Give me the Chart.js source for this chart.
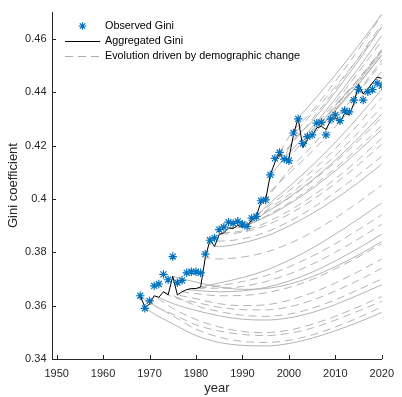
<!DOCTYPE html>
<html><head><meta charset="utf-8">
<script src="https://cdn.jsdelivr.net/npm/chart.js@4.4.1/dist/chart.umd.min.js"></script>
<style>html,body{margin:0;padding:0;background:#fff;}#wrap{width:402px;height:397px;}</style>
</head><body><div id="wrap"><canvas id="c" width="402" height="397"></canvas></div>
<script>
const years = [1968,1969,1970,1971,1972,1973,1974,1975,1976,1977,1978,1979,1980,1981,1982,1983,1984,1985,1986,1987,1988,1989,1990,1991,1992,1993,1994,1995,1996,1997,1998,1999,2000,2001,2002,2003,2004,2005,2006,2007,2008,2009,2010,2011,2012,2013,2014,2015,2016,2017,2018,2019,2020];
const observedGini = [0.3637,0.3590,0.3618,0.3674,0.3681,0.3717,0.3697,0.3784,0.3686,0.3695,0.3723,0.3727,0.3727,0.3723,0.3793,0.3845,0.3854,0.3885,0.3894,0.3913,0.3908,0.3916,0.3905,0.3897,0.3928,0.3934,0.3993,0.3996,0.4090,0.4152,0.4174,0.4149,0.4143,0.4247,0.4300,0.4207,0.4233,0.4240,0.4284,0.4287,0.4240,0.4299,0.4315,0.4293,0.4331,0.4326,0.4370,0.4410,0.4370,0.4401,0.4410,0.4434,0.4424];
const aggregatedGini = [0.3637,0.3594,0.3606,0.3637,0.3631,0.3652,0.3640,0.3710,0.3640,0.3652,0.3660,0.3664,0.3664,0.3670,0.3780,0.3845,0.3822,0.3867,0.3873,0.3891,0.3889,0.3901,0.3894,0.3897,0.3922,0.3934,0.3990,0.3996,0.4090,0.4137,0.4171,0.4143,0.4152,0.4241,0.4303,0.4192,0.4223,0.4237,0.4266,0.4272,0.4260,0.4294,0.4305,0.4284,0.4321,0.4315,0.4358,0.4430,0.4393,0.4412,0.4435,0.4456,0.4452];

// Demographic-change paths: start year (value taken from aggregated Gini) and readings at checkpoints
const checkYears = [1970,1975,1980,1985,1990,1995,2000,2005,2010,2015,2020];
const demoStartYears = [1968,1969,1970,1971,1972,1973,1974,1975,1976,1977,1978,1979,1980,1981,1982,1983,1984,1985,1986,1987,1988,1989,1990,1991,1992,1993,1994,1995,1996,1997,1998,1999,2000,2001,2002,2003,2004,2005,2006,2007,2008,2009,2010];
const demoPaths = [
 [0.3612,0.3562,0.3512,0.3482,0.3466,0.3462,0.3470,0.3490,0.3520,0.3555,0.3595],
 [0.3580,0.3532,0.3488,0.3462,0.3451,0.3449,0.3458,0.3478,0.3506,0.3538,0.3575],
 [null,0.3568,0.3528,0.3505,0.3492,0.3488,0.3496,0.3516,0.3546,0.3580,0.3616],
 [null,0.3590,0.3548,0.3520,0.3503,0.3499,0.3508,0.3530,0.3560,0.3596,0.3634],
 [null,0.3608,0.3582,0.3562,0.3549,0.3546,0.3554,0.3574,0.3604,0.3640,0.3678],
 [null,0.3638,0.3600,0.3578,0.3564,0.3560,0.3568,0.3590,0.3622,0.3660,0.3700],
 [null,0.3632,0.3612,0.3594,0.3585,0.3584,0.3595,0.3620,0.3655,0.3695,0.3740],
 [null,null,0.3688,0.3670,0.3661,0.3664,0.3680,0.3708,0.3746,0.3790,0.3840],
 [null,null,0.3626,0.3607,0.3600,0.3603,0.3620,0.3648,0.3685,0.3728,0.3775],
 [null,null,0.3645,0.3637,0.3638,0.3648,0.3668,0.3698,0.3738,0.3783,0.3832],
 [null,null,0.3657,0.3652,0.3655,0.3668,0.3692,0.3725,0.3768,0.3815,0.3868],
 [null,null,0.3666,0.3665,0.3672,0.3690,0.3718,0.3755,0.3800,0.3850,0.3905],
 [null,null,null,0.3675,0.3690,0.3712,0.3745,0.3785,0.3832,0.3885,0.3940],
 [null,null,null,0.3685,0.3705,0.3732,0.3770,0.3815,0.3868,0.3925,0.3985],
 [null,null,null,0.3775,0.3782,0.3800,0.3832,0.3875,0.3928,0.3988,0.4052],
 [null,null,null,0.3842,0.3850,0.3875,0.3915,0.3965,0.4025,0.4090,0.4160],
 [null,null,null,0.3822,0.3835,0.3860,0.3898,0.3945,0.4000,0.4062,0.4130],
 [null,null,null,null,0.3875,0.3900,0.3942,0.3995,0.4058,0.4128,0.4205],
 [null,null,null,null,0.3880,0.3910,0.3955,0.4010,0.4075,0.4148,0.4228],
 [null,null,null,null,0.3898,0.3932,0.3980,0.4038,0.4105,0.4180,0.4260],
 [null,null,null,null,0.3895,0.3935,0.3985,0.4045,0.4115,0.4192,0.4275],
 [null,null,null,null,0.3905,0.3950,0.4003,0.4066,0.4138,0.4218,0.4305],
 [null,null,null,null,null,0.3948,0.4005,0.4070,0.4145,0.4228,0.4318],
 [null,null,null,null,null,0.3955,0.4015,0.4085,0.4163,0.4250,0.4345],
 [null,null,null,null,null,0.3965,0.4030,0.4105,0.4188,0.4280,0.4380],
 [null,null,null,null,null,0.3970,0.4045,0.4125,0.4212,0.4308,0.4410],
 [null,null,null,null,null,0.4010,0.4095,0.4178,0.4270,0.4370,0.4478],
 [null,null,null,null,null,null,0.4108,0.4198,0.4298,0.4405,0.4520],
 [null,null,null,null,null,null,0.4170,0.4268,0.4375,0.4490,0.4612],
 [null,null,null,null,null,null,0.4195,0.4298,0.4410,0.4530,0.4655],
 [null,null,null,null,null,null,0.4232,0.4330,0.4440,0.4560,0.4690],
 [null,null,null,null,null,null,0.4192,0.4290,0.4400,0.4518,0.4645],
 [null,null,null,null,null,null,null,0.4258,0.4362,0.4475,0.4592],
 [null,null,null,null,null,null,null,0.4320,0.4420,0.4528,0.4642],
 [null,null,null,null,null,null,null,0.4362,0.4465,0.4575,0.4692],
 [null,null,null,null,null,null,null,0.4240,0.4335,0.4440,0.4552],
 [null,null,null,null,null,null,null,0.4250,0.4345,0.4448,0.4558],
 [null,null,null,null,null,null,null,null,0.4330,0.4430,0.4538],
 [null,null,null,null,null,null,null,null,0.4350,0.4448,0.4555],
 [null,null,null,null,null,null,null,null,0.4350,0.4450,0.4560],
 [null,null,null,null,null,null,null,null,0.4330,0.4430,0.4540],
 [null,null,null,null,null,null,null,null,0.4340,0.4440,0.4548],
 [null,null,null,null,null,null,null,null,null,0.4400,0.4510]
];
const xTicks = [1950,1960,1970,1980,1990,2000,2010,2020];
const yTicks = [0.34,0.36,0.38,0.40,0.42,0.44,0.46];
const yTickLabels = ['0.34','0.36','0.38','0.4','0.42','0.44','0.46'];
const legendLabels = ['Observed Gini','Aggregated Gini','Evolution driven by demographic change'];

const FONT = "'Liberation Sans', Arial, Helvetica, sans-serif";
const AXIS = '#262626';
const BLUE = '#0072BD';
const GRAY = 'rgb(172,172,172)';

const datasets = [];
datasets.push({
  label: legendLabels[0],
  data: years.map((y,i)=>({x:y,y:observedGini[i]})),
  showLine: false, pointStyle: 'star', pointRadius: 4.2, pointBorderWidth: 1.2,
  pointBorderColor: BLUE, pointBackgroundColor: BLUE, borderColor: BLUE, order: 0
});
datasets.push({
  label: legendLabels[1],
  data: years.map((y,i)=>({x:y,y:aggregatedGini[i]})),
  borderColor: '#000', borderWidth: 1, pointRadius: 0, tension: 0, order: 1
});
demoStartYears.forEach((s,k)=>{
  const pts = [{x:s, y:aggregatedGini[years.indexOf(s)]}];
  checkYears.forEach((cy,j)=>{ const v = demoPaths[k][j]; if (v !== null && cy > s) pts.push({x:cy,y:v}); });
  datasets.push({
    label: legendLabels[2], data: pts,
    borderColor: GRAY, borderWidth: 0.9, pointRadius: 0,
    borderDash: (k % 3 === 1) ? [] : [8,5], borderDashOffset: (k*3)%13,
    cubicInterpolationMode: 'monotone', order: 2
  });
});

const inwardTicks = {
  id: 'inwardTicks',
  afterDraw(chart) {
    const ctx = chart.ctx, xs = chart.scales.x, ys = chart.scales.y, a = chart.chartArea;
    ctx.save();
    ctx.strokeStyle = AXIS; ctx.lineWidth = 1;
    ctx.beginPath();
    xTicks.forEach(t => { const px = Math.round(xs.getPixelForValue(t)) + 0.5; ctx.moveTo(px, a.bottom); ctx.lineTo(px, a.bottom - 4); });
    yTicks.forEach(t => { const py = Math.round(ys.getPixelForValue(t)) + 0.5; ctx.moveTo(a.left, py); ctx.lineTo(a.left + 4, py); });
    ctx.stroke();
    // legend
    ctx.font = '10.8px ' + FONT; ctx.fillStyle = '#000'; ctx.textBaseline = 'middle'; ctx.textAlign = 'left';
    const lx0 = 65, lx1 = 100, tx = 105;
    const rows = [26, 41.5, 56.5];
    ctx.strokeStyle = BLUE; ctx.lineWidth = 1.2;
    const cx = 82.5, cy = rows[0], r = 3.8;
    ctx.beginPath();
    for (let i = 0; i < 4; i++) { const ang = i * Math.PI / 4; ctx.moveTo(cx - r*Math.cos(ang), cy - r*Math.sin(ang)); ctx.lineTo(cx + r*Math.cos(ang), cy + r*Math.sin(ang)); }
    ctx.stroke();
    ctx.strokeStyle = '#000'; ctx.lineWidth = 1;
    ctx.beginPath(); ctx.moveTo(lx0, rows[1]); ctx.lineTo(lx1, rows[1]); ctx.stroke();
    ctx.strokeStyle = GRAY; ctx.setLineDash([8,5]);
    ctx.beginPath(); ctx.moveTo(lx0, rows[2]); ctx.lineTo(lx1 + 1, rows[2]); ctx.stroke();
    ctx.setLineDash([]);
    legendLabels.forEach((t,i) => ctx.fillText(t, tx, rows[i]));
    ctx.restore();
  }
};

new Chart(document.getElementById('c'), {
  type: 'line',
  data: { datasets },
  options: {
    responsive: false, animation: false, devicePixelRatio: 1,
    layout: { padding: { top: 7, right: 14, left: 0, bottom: 0 } },
    plugins: { legend: { display: false }, tooltip: { enabled: false } },
    scales: {
      x: {
        type: 'linear', min: 1949, max: 2020,
        afterFit: s => { s.height = 38; },
        afterBuildTicks: s => { s.ticks = xTicks.map(v => ({value: v})); },
        grid: { display: false, drawTicks: false },
        border: { display: true, color: AXIS, width: 1 },
        ticks: { padding: 8, color: AXIS, font: { family: FONT, size: 11 }, maxRotation: 0, autoSkip: false, callback: v => String(v) },
        title: { display: true, text: 'year', color: AXIS, font: { family: FONT, size: 13 }, padding: { top: 0, bottom: 1 } }
      },
      y: {
        type: 'linear', min: 0.34, max: 0.47,
        afterFit: s => { s.width = 52; },
        afterBuildTicks: s => { s.ticks = yTicks.map(v => ({value: v})); },
        grid: { display: false, drawTicks: false },
        border: { display: true, color: AXIS, width: 1 },
        ticks: { padding: 5.5, color: AXIS, font: { family: FONT, size: 11 }, autoSkip: false,
          callback: (v) => { const i = yTicks.findIndex(t => Math.abs(t - v) < 1e-9); return i >= 0 ? yTickLabels[i] : ''; } },
        title: { display: true, text: 'Gini coefficient', color: AXIS, font: { family: FONT, size: 13 }, padding: { top: 6, bottom: 0 } }
      }
    }
  },
  plugins: [inwardTicks]
});
</script></body></html>
